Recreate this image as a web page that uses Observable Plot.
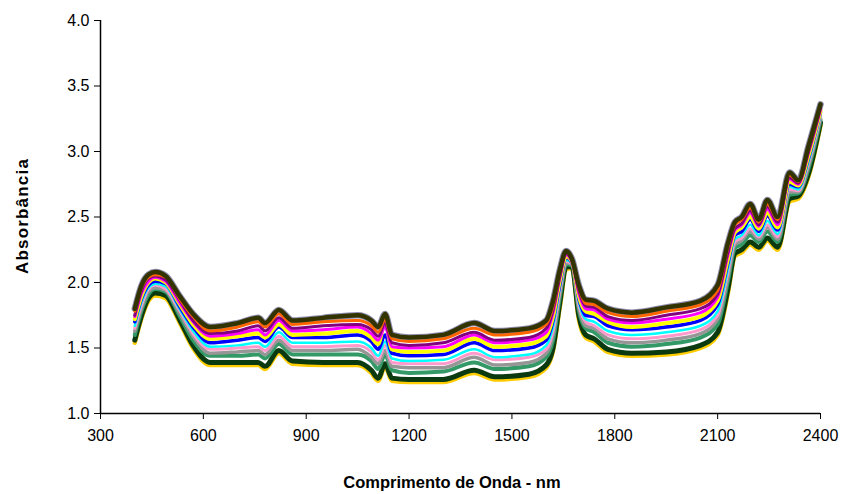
<!DOCTYPE html>
<html><head><meta charset="utf-8">
<script src="https://cdn.jsdelivr.net/npm/d3@7"></script>
<script src="https://cdn.jsdelivr.net/npm/@observablehq/plot@0.6"></script>
<style>body{margin:0;background:#fff;} #chart svg{display:block;}</style>
</head><body><div id="chart"></div>
<script>
// Wavelengths (nm) shared by all spectra
const wavelengths = [400,420,440,460,490,530,570,620,700,760,780,820,860,950,1050,1090,1110,1130,1150,1200,1300,1390,1450,1550,1600,1620,1640,1658,1675,1695,1715,1740,1780,1850,1950,2050,2100,2130,2150,2170,2195,2220,2245,2275,2310,2335,2365,2400];

// Absorbance spectra, top to bottom
const spectrumOlive   = [1.80,1.98,2.06,2.08,2.05,1.90,1.76,1.66,1.69,1.73,1.69,1.79,1.71,1.73,1.75,1.71,1.66,1.76,1.60,1.58,1.60,1.69,1.63,1.65,1.71,1.86,2.10,2.24,2.18,1.98,1.87,1.86,1.80,1.77,1.81,1.86,1.98,2.30,2.46,2.50,2.60,2.48,2.63,2.50,2.84,2.78,3.04,3.36];
const spectrumOrange  = [1.78,1.96,2.04,2.06,2.04,1.88,1.74,1.63,1.66,1.70,1.66,1.76,1.68,1.70,1.71,1.67,1.62,1.72,1.57,1.55,1.57,1.65,1.60,1.62,1.68,1.82,2.08,2.23,2.17,1.96,1.84,1.83,1.77,1.74,1.78,1.83,1.94,2.27,2.44,2.48,2.57,2.46,2.60,2.48,2.82,2.77,3.02,3.35];
const spectrumPurple  = [1.75,1.94,2.03,2.05,2.02,1.87,1.71,1.61,1.63,1.67,1.63,1.73,1.65,1.67,1.68,1.64,1.59,1.69,1.54,1.52,1.54,1.62,1.56,1.58,1.65,1.79,2.05,2.22,2.17,1.94,1.82,1.81,1.74,1.71,1.75,1.80,1.91,2.23,2.41,2.45,2.55,2.44,2.58,2.46,2.80,2.76,3.00,3.33];
const spectrumMagenta = [1.74,1.92,2.01,2.04,2.01,1.85,1.70,1.59,1.61,1.64,1.60,1.71,1.63,1.64,1.66,1.61,1.56,1.66,1.51,1.50,1.51,1.60,1.54,1.56,1.62,1.77,2.04,2.21,2.16,1.92,1.80,1.79,1.72,1.69,1.72,1.77,1.89,2.21,2.40,2.44,2.53,2.43,2.56,2.44,2.79,2.75,2.99,3.32];
const spectrumYellow  = [1.72,1.90,2.00,2.03,2.00,1.84,1.68,1.57,1.59,1.61,1.58,1.68,1.60,1.61,1.63,1.58,1.53,1.70,1.49,1.47,1.48,1.57,1.51,1.53,1.59,1.74,2.02,2.20,2.16,1.90,1.78,1.76,1.70,1.66,1.69,1.74,1.86,2.18,2.38,2.42,2.50,2.41,2.53,2.42,2.77,2.74,2.97,3.31];
const spectrumBlue    = [1.70,1.88,1.98,2.01,1.99,1.82,1.66,1.54,1.56,1.58,1.55,1.66,1.58,1.58,1.60,1.55,1.49,1.60,1.46,1.44,1.45,1.54,1.48,1.50,1.56,1.71,1.99,2.19,2.15,1.88,1.75,1.74,1.67,1.64,1.66,1.71,1.83,2.15,2.36,2.39,2.48,2.39,2.51,2.40,2.75,2.73,2.95,3.30];
const spectrumCyan    = [1.67,1.85,1.96,1.99,1.97,1.80,1.63,1.51,1.52,1.54,1.51,1.62,1.54,1.54,1.55,1.50,1.44,1.55,1.42,1.40,1.41,1.49,1.43,1.45,1.52,1.66,1.96,2.17,2.15,1.85,1.72,1.70,1.63,1.60,1.62,1.67,1.78,2.10,2.33,2.36,2.44,2.36,2.47,2.37,2.73,2.71,2.92,3.28];
const spectrumPink    = [1.65,1.83,1.95,1.98,1.95,1.79,1.61,1.49,1.50,1.51,1.48,1.59,1.51,1.51,1.52,1.47,1.41,1.52,1.39,1.38,1.38,1.46,1.41,1.43,1.49,1.63,1.94,2.16,2.14,1.83,1.70,1.67,1.60,1.57,1.59,1.64,1.75,2.08,2.31,2.34,2.41,2.35,2.44,2.35,2.71,2.70,2.91,3.27];
const spectrumGray    = [1.63,1.81,1.93,1.96,1.94,1.77,1.59,1.46,1.47,1.48,1.45,1.56,1.48,1.48,1.49,1.43,1.38,1.48,1.36,1.35,1.35,1.43,1.37,1.39,1.46,1.60,1.92,2.15,2.14,1.81,1.67,1.65,1.57,1.54,1.56,1.61,1.72,2.04,2.29,2.32,2.39,2.33,2.42,2.33,2.69,2.69,2.89,3.26];
const spectrumGreen   = [1.60,1.79,1.91,1.95,1.93,1.75,1.56,1.44,1.44,1.45,1.42,1.53,1.45,1.45,1.45,1.40,1.34,1.45,1.33,1.31,1.32,1.39,1.34,1.36,1.43,1.56,1.89,2.14,2.13,1.79,1.65,1.62,1.54,1.51,1.53,1.58,1.68,2.01,2.26,2.29,2.36,2.31,2.39,2.31,2.67,2.68,2.87,3.24];
const spectrumDarkGreen = [1.56,1.75,1.88,1.92,1.90,1.72,1.52,1.39,1.39,1.39,1.36,1.48,1.40,1.39,1.39,1.33,1.27,1.38,1.27,1.26,1.26,1.33,1.28,1.30,1.37,1.50,1.85,2.12,2.12,1.75,1.60,1.57,1.49,1.46,1.47,1.52,1.62,1.95,2.22,2.25,2.31,2.27,2.34,2.27,2.64,2.66,2.83,3.22];
const spectrumGold    = [1.54,1.73,1.86,1.90,1.88,1.70,1.50,1.37,1.37,1.37,1.34,1.46,1.38,1.37,1.37,1.31,1.25,1.36,1.25,1.24,1.24,1.31,1.26,1.28,1.35,1.48,1.82,2.10,2.11,1.72,1.58,1.55,1.47,1.44,1.45,1.50,1.60,1.92,2.20,2.23,2.29,2.25,2.32,2.25,2.62,2.64,2.81,3.20];

const xTicks = [300,600,900,1200,1500,1800,2100,2400];
const yTicks = [1.0,1.5,2.0,2.5,3.0,3.5,4.0];

const series = [
  {values: spectrumGold,      color: "#ffcc00", width: 4.5},
  {values: spectrumOlive,     color: "#8c8cac", width: 6.5},
  {values: spectrumDarkGreen, color: "#0b3a10", width: 5},
  {values: spectrumGreen,     color: "#339966", width: 4},
  {values: spectrumGray,      color: "#969696", width: 3.5},
  {values: spectrumPink,      color: "#ff99cc", width: 3},
  {values: spectrumCyan,      color: "#00ffff", width: 2.5},
  {values: spectrumBlue,      color: "#0000ff", width: 3.5},
  {values: spectrumYellow,    color: "#ffff00", width: 4},
  {values: spectrumMagenta,   color: "#ff00ff", width: 3},
  {values: spectrumPurple,    color: "#800080", width: 3},
  {values: spectrumOrange,    color: "#ff6600", width: 3},
  {values: spectrumOlive,     color: "#333300", width: 4.5}
];

const lineMarks = series.map(s => Plot.line(
  wavelengths.map((w, i) => ({w, a: s.values[i]})),
  {x: "w", y: "a", stroke: s.color, strokeWidth: s.width, strokeLinejoin: "round", curve: "monotone-x"}
));

const chart = Plot.plot({
  width: 844,
  height: 494,
  marginLeft: 100,
  marginRight: 24,
  marginTop: 20,
  marginBottom: 81,
  style: {fontFamily: "'Liberation Sans', Arial, sans-serif", fontSize: "16px", color: "#000", background: "#fff"},
  x: {domain: [300, 2400]},
  y: {domain: [1, 4]},
  marks: [
    ...lineMarks,
    Plot.ruleX([300], {y1: 1, y2: 4, stroke: "#000", strokeWidth: 1.5}),
    Plot.ruleY([1], {x1: 300, x2: 2400, stroke: "#000", strokeWidth: 1.5}),
    Plot.axisY({ticks: yTicks, tickFormat: d => d.toFixed(1), tickSize: 6, tickPadding: 5, label: null, fontSize: 16}),
    Plot.axisX({ticks: xTicks, tickFormat: d => String(d), tickSize: 6, tickPadding: 10, label: null, fontSize: 16})
  ]
});

const svg = d3.select(chart);
svg.append("text")
  .attr("x", 452).attr("y", 488)
  .attr("text-anchor", "middle")
  .attr("font-weight", "bold").attr("font-size", 16.5)
  .attr("font-family", "'Liberation Sans', Arial, sans-serif")
  .attr("fill", "#000")
  .text("Comprimento de Onda - nm");
svg.append("text")
  .attr("transform", "translate(28,216) rotate(-90)")
  .attr("text-anchor", "middle")
  .attr("font-weight", "bold").attr("font-size", 17)
  .attr("letter-spacing", 1.2)
  .attr("font-family", "'Liberation Sans', Arial, sans-serif")
  .attr("fill", "#000")
  .text("Absorbância");

document.getElementById("chart").appendChild(chart);
</script>
</body></html>
